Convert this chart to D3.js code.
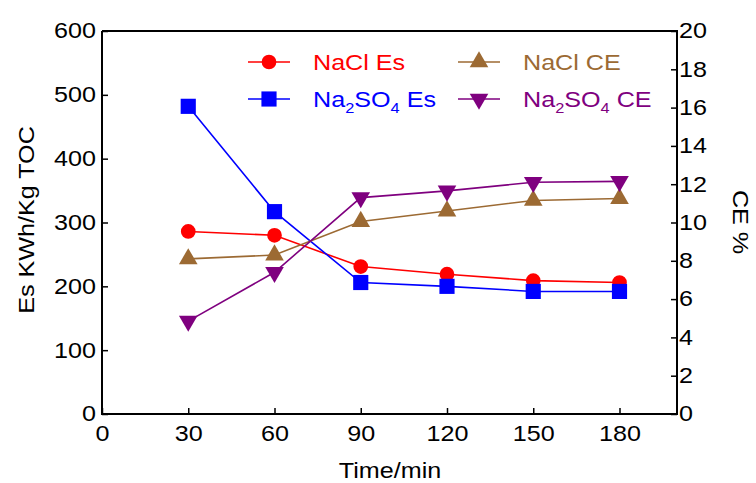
<!DOCTYPE html>
<html>
<head>
<meta charset="utf-8">
<script src="https://cdn.jsdelivr.net/npm/d3@7"></script>
<style>
	body{margin:0;background:#fff;}
	text{font-family:"Liberation Sans",Arial,sans-serif;}
</style>
</head>
<body>
<div id="chart"></div>
<script>
//data
const times = [30,60,90,120,150,180];
const naclEs = [286,280,231,219,209,206];
const na2so4Es = [482,317,206,200,192,192];
const naclCE = [8.1,8.3,10.05,10.6,11.15,11.25];
const na2so4CE = [4.85,7.4,11.3,11.65,12.1,12.15];
const xTicks = [0,30,60,90,120,150,180];
const yLeftTicks = [0,100,200,300,400,500,600];
const yRightTicks = [0,2,4,6,8,10,12,14,16,18,20];

const width = 756, height = 483;
const margin = {t:31,r:79,b:69,l:102};
const w = width - margin.l - margin.r;
const h = height - margin.t - margin.b;
const fs = '21.5px';
const sx = 1.17; //the reference glyphs are drawn a little wide

const svg = d3.select('#chart').append('svg')
	.attr('width',width)
	.attr('height',height);
const plot = svg.append('g')
	.attr('transform',`translate(${margin.l},${margin.t})`);

const scaleX = d3.scaleLinear().domain([0,200]).range([0,w]);
const scaleY = d3.scaleLinear().domain([0,600]).range([h,0]);
const scaleY2 = d3.scaleLinear().domain([0,20]).range([h,0]);

//Axes, ticks pointing inward
const axisX = d3.axisTop(scaleX).tickValues(xTicks).tickSize(6).tickFormat(d => d);
const axisY = d3.axisRight(scaleY).tickValues(yLeftTicks).tickSize(6).tickFormat(d => d);
const axisY2 = d3.axisLeft(scaleY2).tickValues(yRightTicks).tickSize(6).tickFormat(d => d);

function styleAxis(g){
	g.select('.domain').remove();
	g.selectAll('line').attr('stroke','#000').attr('stroke-width',1.5);
	g.selectAll('text').attr('fill','#000').style('font-size',fs)
		.attr('transform',`scale(${sx},1)`);
}

const gx = plot.append('g').attr('transform',`translate(0,${h})`).call(axisX).call(styleAxis);
gx.selectAll('text').attr('y',27).attr('dy',0);
const gy = plot.append('g').call(axisY).call(styleAxis);
gy.selectAll('text').attr('x',-6/sx).attr('text-anchor','end');
const gy2 = plot.append('g').attr('transform',`translate(${w},0)`).call(axisY2).call(styleAxis);
gy2.selectAll('text').attr('x',2/sx).attr('text-anchor','start');

//frame (bottom, left, right, top)
plot.append('path')
	.attr('d',`M0,0V${h}H${w}V0H0`)
	.attr('fill','none')
	.attr('stroke','#000')
	.attr('stroke-width',2);

//Axis titles
svg.append('text')
	.attr('transform',`translate(390,478) scale(${sx},1)`)
	.attr('text-anchor','middle')
	.style('font-size',fs)
	.text('Time/min');
svg.append('text')
	.attr('transform',`translate(34,220) rotate(-90) scale(${sx},1)`)
	.attr('text-anchor','middle')
	.style('font-size',fs)
	.text('Es KWh/Kg TOC');
svg.append('text')
	.attr('transform',`translate(733,222) rotate(90) scale(${sx},1)`)
	.attr('text-anchor','middle')
	.style('font-size',fs)
	.text('CE %');

//Series
const series = [
	{name:'naclEs', values:naclEs, scale:scaleY, color:'#ff0000', sym:d3.symbolCircle, size:170},
	{name:'na2so4Es', values:na2so4Es, scale:scaleY, color:'#0000ff', sym:d3.symbolSquare, size:230},
	{name:'naclCE', values:naclCE, scale:scaleY2, color:'#9c6a33', sym:d3.symbolTriangle, size:150, down:false},
	{name:'na2so4CE', values:na2so4CE, scale:scaleY2, color:'#7f007f', sym:d3.symbolTriangle, size:150, down:true}
];

const line = sc => d3.line()
	.x((d,i) => scaleX(times[i]))
	.y(d => sc(d));

series.forEach(s => {
	plot.append('path')
		.datum(s.values)
		.attr('d',line(s.scale))
		.attr('fill','none')
		.attr('stroke',s.color)
		.attr('stroke-width',1.6);
	plot.selectAll('.pt-' + s.name)
		.data(s.values)
		.enter()
		.append('path')
		.attr('class','pt-' + s.name)
		.attr('d',d3.symbol().type(s.sym).size(s.size))
		.attr('transform',(d,i) => `translate(${scaleX(times[i])},${s.scale(d)})${s.down ? ' rotate(180)' : ''}`)
		.attr('fill',s.color);
});

//Legend
const legendItems = [
	{s:series[0], x:248, y:62, label:['NaCl Es']},
	{s:series[1], x:248, y:99, label:['Na','2','SO','4',' Es']},
	{s:series[2], x:458, y:62, label:['NaCl CE']},
	{s:series[3], x:458, y:99, label:['Na','2','SO','4',' CE']}
];
legendItems.forEach(it => {
	const g = svg.append('g').attr('transform',`translate(${it.x},${it.y})`);
	g.append('line').attr('x1',0).attr('x2',42).attr('stroke',it.s.color).attr('stroke-width',1.6);
	g.append('path')
		.attr('d',d3.symbol().type(it.s.sym).size(it.s.size))
		.attr('transform',`translate(21,0)${it.s.down ? ' rotate(180)' : ''}`)
		.attr('fill',it.s.color);
	const t = g.append('text')
		.attr('transform',`translate(65,8) scale(${sx},1)`)
		.attr('fill',it.s.color)
		.style('font-size',fs);
	if(it.label.length === 1){
		t.text(it.label[0]);
	}else{
		t.append('tspan').text(it.label[0]);
		t.append('tspan').attr('dy',6).style('font-size','14px').text(it.label[1]);
		t.append('tspan').attr('dy',-6).text(it.label[2]);
		t.append('tspan').attr('dy',6).style('font-size','14px').text(it.label[3]);
		t.append('tspan').attr('dy',-6).text(it.label[4]);
	}
});
</script>
</body>
</html>
